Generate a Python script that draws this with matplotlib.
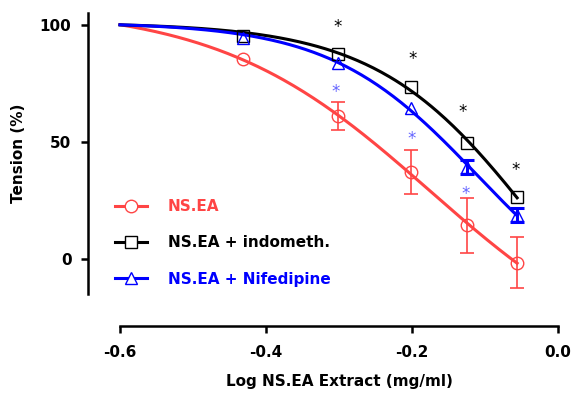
import numpy as np
import matplotlib
matplotlib.use("Agg")
import matplotlib.pyplot as plt
from matplotlib.lines import Line2D

# log concentration (mg/ml)
log_conc = [-0.432, -0.301, -0.201, -0.125, -0.056]

ns_ea = [85.2, 61.0, 37.2, 14.3, -1.6]
ns_ea_err = [1.0, 6.0, 9.3, 11.8, 11.0]
indometh = [95.0, 87.6, 73.4, 49.6, 26.4]
indometh_err = [0.8, 1.0, 1.2, 1.5, 1.5]
nifedipine = [94.5, 83.8, 64.3, 39.3, 18.8]
nifedipine_err = [1.0, 1.2, 1.5, 3.0, 3.0]

# fitted curves all start from 100 % at the left end of the axis
curve_start = (-0.6, 100.0)

labels = ["NS.EA", "NS.EA + indometh.", "NS.EA + Nifedipine"]

# significance marks (x, y)
stars_black = [(-0.302, 99.2), (-0.199, 85.2), (-0.130, 62.7), (-0.058, 37.8)]
stars_blue = [(-0.304, 71.3), (-0.201, 51.3), (-0.126, 27.8)]

red = "#FF4545"
blue = "#0000FF"
star_blue = "#6464FF"

plt.rcParams["font.family"] = "DejaVu Sans"
plt.rcParams["font.weight"] = "bold"


def fit_curve(x, y):
    # 4-parameter logistic: grid over logEC50 / slope, top & bottom by
    # weighted linear least squares
    x = np.asarray([curve_start[0]] + list(x), float)
    y = np.asarray([curve_start[1]] + list(y), float)
    w = np.ones_like(x)
    w[0] = 20
    c = np.linspace(-0.6, 0.4, 201)[:, None, None]
    h = np.linspace(0.3, 8, 155)[None, :, None]
    s = 1 / (1 + 10 ** ((x[None, None, :] - c) * h))
    u = 1 - s
    a11 = (w * u * u).sum(-1)
    a12 = (w * u * s).sum(-1)
    a22 = (w * s * s).sum(-1)
    r1 = (w * u * y).sum(-1)
    r2 = (w * s * y).sum(-1)
    det = a11 * a22 - a12 ** 2
    det = np.where(np.abs(det) < 1e-12, np.nan, det)
    b = (a22 * r1 - a12 * r2) / det
    t = (a11 * r2 - a12 * r1) / det
    pred = b[..., None] * u + t[..., None] * s
    err = (w * (pred - y) ** 2).sum(-1)
    err = np.where(np.isfinite(err), err, np.inf)
    i, j = np.unravel_index(np.argmin(err), err.shape)
    return c[i, 0, 0], h[0, j, 0], b[i, j], t[i, j]


fig = plt.figure(figsize=(5.72, 3.94), dpi=100)
ax = fig.add_axes([120 / 572, 1 - 294 / 394, 438 / 572, 281 / 394])

xs = np.linspace(-0.6, log_conc[-1], 200)
series = [
    (ns_ea, ns_ea_err, red, "o"),
    (indometh, indometh_err, "black", "s"),
    (nifedipine, nifedipine_err, blue, "^"),
]
handles = []
for (vals, errs, col, mk), lab in zip(series, labels):
    c, h, b, t = fit_curve(log_conc, vals)
    ax.plot(xs, b + (t - b) / (1 + 10 ** ((xs - c) * h)), color=col, lw=2.2,
            clip_on=False, zorder=2)
    ax.plot(log_conc, vals, mk, color=col, mfc="none", mec=col, ms=9, mew=1.0,
            clip_on=False, zorder=3)
    # error bars shorter than the symbol are hidden (as in Prism)
    keep = [i for i, e in enumerate(errs) if e > 2.8]
    if keep:
        lw = 1.2 if col == red else 2.2
        ax.errorbar([log_conc[i] for i in keep], [vals[i] for i in keep],
                    yerr=[errs[i] for i in keep], fmt="none", ecolor=col,
                    elinewidth=lw, capsize=5, capthick=lw, clip_on=False,
                    zorder=3)
    handles.append(Line2D([], [], color=col, lw=2.2, marker=mk, mfc="white",
                          mec=col, ms=9, mew=1.0))

for x, y in stars_black:
    ax.text(x, y, "*", color="black", fontsize=12, fontweight="normal",
            ha="center", va="center")
for x, y in stars_blue:
    ax.text(x, y, "*", color=star_blue, fontsize=12, fontweight="normal",
            ha="center", va="center")

ax.set_xlim(-0.6, 0.0)
ax.set_ylim(-15, 105)
ax.set_xticks([-0.6, -0.4, -0.2, 0.0])
ax.set_xticklabels(["-0.6", "-0.4", "-0.2", "0.0"])
ax.set_yticks([0, 50, 100])

for s in ["top", "right"]:
    ax.spines[s].set_visible(False)
ax.spines["left"].set_position(("outward", 23))
ax.spines["bottom"].set_position(("outward", 23))
ax.spines["left"].set_linewidth(1.8)
ax.spines["bottom"].set_linewidth(1.8)
ax.tick_params(axis="y", width=1.8, length=5, labelsize=11, pad=7)
ax.tick_params(axis="x", width=1.8, length=5, labelsize=11, pad=9)

ax.set_xlabel("Log NS.EA Extract (mg/ml)", fontsize=11, fontweight="bold",
              labelpad=10)
ax.set_ylabel("Tension (%)", fontsize=11, fontweight="bold", labelpad=10)

leg = ax.legend(handles, labels, loc="upper left", frameon=False,
                bbox_to_anchor=(115 / 572, 1 - 199 / 394),
                bbox_transform=fig.transFigure, borderpad=0, borderaxespad=0,
                handlelength=2.1, handletextpad=1.35, labelspacing=1.4,
                prop={"size": 11, "weight": "bold"})
for t, col in zip(leg.get_texts(), [red, "black", blue]):
    t.set_color(col)

fig.savefig("out.png", dpi=100)
